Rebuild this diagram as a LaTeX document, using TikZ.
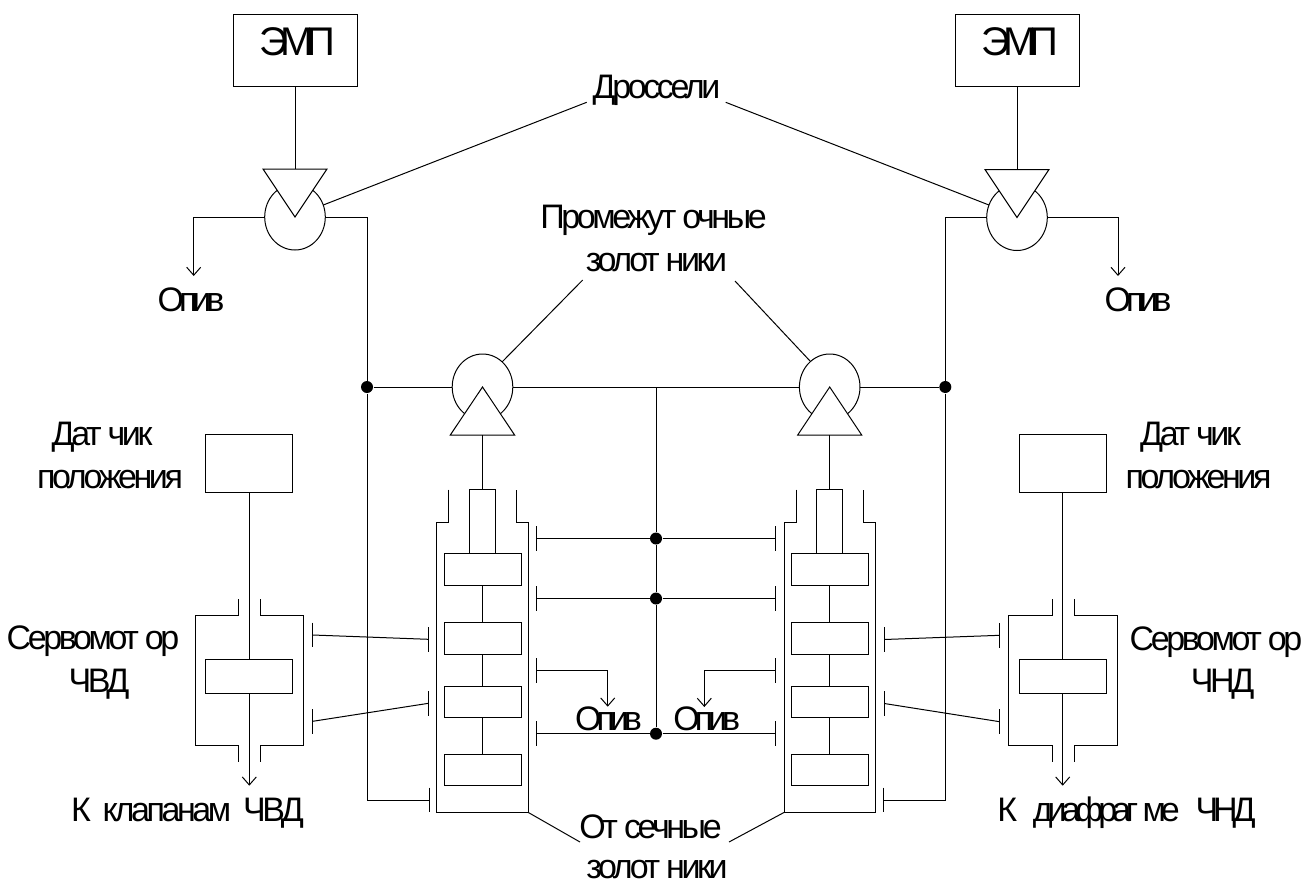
\documentclass[tikz,border=0pt]{standalone}
\usepackage{fontspec}
\setmainfont{Liberation Sans}
\newfontface\tightfont{Liberation Sans}[LetterSpace=-10]
\newfontface\tighterfont{Liberation Sans}[LetterSpace=-15]
\newfontface\empfont{Liberation Sans}[LetterSpace=-18]
\usetikzlibrary{arrows.meta,shapes.geometric}
\tikzset{boxnode/.style={draw,fill=white,inner sep=0pt,outer sep=0pt},valve/.style={draw,fill=white,ellipse,inner sep=0pt,outer sep=0pt,minimum width=60.6pt,minimum height=66pt},
  junct/.style={circle,fill=black,inner sep=0pt,minimum size=12pt},txt/.style={anchor=base,inner sep=0pt,font=\tightfont\fontsize{34}{40}\selectfont},
  txtb/.style={txt,font=\tighterfont\fontsize{34}{40}\selectfont},txtemp/.style={txt,font=\empfont\fontsize{40}{44}\selectfont}}
\begin{document}
\begin{tikzpicture}[x=1pt,y=-1pt,line width=1pt,>={Straight Barb[length=8pt,width=14pt]}]
\useasboundingbox[fill=white] (0,0) rectangle (1301,884);
\node[boxnode,minimum width=124pt,minimum height=71.5pt] (empL) at (295,50.5){}; \node[boxnode,minimum width=124pt,minimum height=71.5pt] (empR) at (1017,50.5){};
\node[txtemp] (empLtxt) at (297.5,55){ЭМП}; \node[txtemp] (empRtxt) at (1020,55){ЭМП};
\node[valve] (drL) at (295,217){}; \node[valve] (drR) at (1017,217.5){}; \node[valve] (pzL) at (482.5,387){}; \node[valve] (pzR) at (829.7,387){};
\draw[fill=white] (263,169)--(327,169)--(295,217)--cycle; \draw[fill=white] (985,169.5)--(1049,169.5)--(1017,217.5)--cycle;
\draw[fill=white] (450.3,435)--(514.6,435)--(482.5,387)--cycle; \draw[fill=white] (797.7,435)--(861.7,435)--(829.7,387)--cycle;
\coordinate (triDL) at (295,169); \coordinate (triDR) at (1017,169.5); \coordinate (triPL) at (482.5,435); \coordinate (triPR) at (829.7,435);
\draw (empL)--(triDL); \draw (empR)--(triDR);
\node[junct] (jL) at (367,387){}; \node[junct] (jR) at (945.3,387){}; \node[junct] (jA) at (656,538.5){}; \node[junct] (jB) at (656,598.5){}; \node[junct] (jC) at (656,733.7){};
% spool housings
\foreach \c/\hl/\hr/\nl/\nr in {L/436.7/528/448.7/516.3,R/784.3/875.3/796.3/863.3} \draw (\nl,489.5)--(\nl,522.5)--(\hl,522.5)--(\hl,812.3)--(\hr,812.3)--(\hr,522.5)--(\nr,522.5)--(\nr,489.5);
\foreach \c/\x in {L/482.5,R/829.7} {\node[boxnode,minimum width=26.3pt,minimum height=64pt] (rod\c) at (\x,521.5){};
  \node[boxnode,minimum width=77pt,minimum height=31.5pt] (pa\c) at (\x,569.5){}; \node[boxnode,minimum width=77pt,minimum height=31.5pt] (pb\c) at (\x,638.3){};
  \node[boxnode,minimum width=77pt,minimum height=31.5pt] (pc\c) at (\x,701.8){}; \node[boxnode,minimum width=77pt,minimum height=31.5pt] (pd\c) at (\x,769.8){};
  \draw (pa\c)--(pb\c); \draw (pb\c)--(pc\c); \draw (pc\c)--(pd\c);}
\draw (triPL)--(rodL); \draw (triPR)--(rodR);
% servomotors
\foreach \c/\x/\hl/\hr/\nl/\nr in {L/249.3/195/303.7/238.3/260.3,R/1062.7/1008.7/1117/1052/1074} {\node[boxnode,minimum width=87pt,minimum height=58pt] (dat\c) at (\x,463.7){}; \node[boxnode,minimum width=87pt,minimum height=33.5pt] (sp\c) at (\x,676.7){};
  \draw (\nl,599)--(\nl,615.2)--(\hl,615.2)--(\hl,745.7)--(\nl,745.7)--(\nl,762); \draw (\nr,599)--(\nr,615.2)--(\hr,615.2)--(\hr,745.7)--(\nr,745.7)--(\nr,762);
  \coordinate (out\c) at (\x,785.7); \draw (dat\c)--(sp\c); \draw[->] (sp\c)--(out\c);}
% T ends
\foreach \n/\x/\y in {tA/536.7/538.5,tB/536.7/598.5,tC/536.7/670.7,tD/536.7/733.7,tE/775.7/538.5,tF/775.7/598.5,tG/775.7/670.7,tH/775.7/733.7,tI/428.5/639.3,tJ/428.5/703.3,tK/429/800,tL/884.3/639.5,tM/884.3/703.5,tN/883.3/800,tO/312.7/635,tP/312.7/721.3,tQ/999.7/635.3,tR/999.7/721.7} {\coordinate (\n) at (\x,\y); \draw (\x,\y-12.3)--(\x,\y+12.3);}
\draw (tI)--(tO); \draw (tJ)--(tP); \draw (tL)--(tQ); \draw (tM)--(tR);
\coordinate (drnL) at (193.7,276); \coordinate (drnR) at (1118,276); \coordinate (drnC) at (607.7,706.7); \coordinate (drnD) at (704.3,707);
\draw[->] (drL.west)-|(drnL); \draw[->] (drR.east)-|(drnR); \draw[->] (tC)-|(drnC); \draw[->] (tG)-|(drnD);
\draw (drL.east)-|(jL); \draw (drR.west)-|(jR); \draw (jL)|-(tK); \draw (jR)|-(tN);
\draw (jL)--(pzL); \draw (pzL)--(pzR); \draw (pzR)--(jR);
\coordinate (top) at (656,387); \draw (top)--(jA); \draw (jA)--(jB); \draw (jB)--(jC);
\draw (tA)--(jA); \draw (jA)--(tE); \draw (tB)--(jB); \draw (jB)--(tF); \draw (tD)--(jC); \draw (jC)--(tH);
% labels
\node[txt] (lblDr) at (656.5,98.3){Дроссели}; \node[txt] (lblPr) at (653.5,228.3){Промежут очные}; \node[txt] (lblZa) at (656.5,271.7){золот ники};
\node[txt] (lblOc) at (650.5,838){От сечные}; \node[txt] (lblZb) at (657,878){золот ники};
\node[txtb] (lblDrnL) at (191,311){Опив}; \node[txtb] (lblDrnR) at (1138,311){Опив}; \node[txtb] (lblDrnC) at (608.5,730){Опив}; \node[txtb] (lblDrnD) at (706.7,730){Опив};
\node[txt] (lblDatA) at (102,445.7){Дат чик}; \node[txt] (lblDatB) at (110,488.3){положения}; \node[txt] (lblDatC) at (1190.5,445.7){Дат чик}; \node[txt] (lblDatD) at (1198.5,488.3){положения};
\node[txt] (lblSvA) at (93,649.3){Сервомот ор}; \node[txt] (lblSvB) at (99,692.7){ЧВД}; \node[txt] (lblSvC) at (1216,650.7){Сервомот ор}; \node[txt] (lblSvD) at (1222.5,692.7){ЧНД};
\node[txt] (lblOutL) at (187.5,821){К\, клапанам\, ЧВД}; \node[txtb] (lblOutR) at (1126.5,821){К\,\, диафраг ме\,\, ЧНД};
\coordinate (ldA) at (586.7,102.3); \coordinate (ldB) at (725.7,102.3); \coordinate (ldC) at (582.7,280); \coordinate (ldD) at (735,281); \coordinate (ldE) at (580,842); \coordinate (ldF) at (729,842);
\draw (ldA)--(drL.23); \draw (ldB)--(drR.156); \draw (ldC)--(pzL.52); \draw (ldD)--(pzR.127); \draw (ldE)--(528,812.3); \draw (ldF)--(784.3,812.3);
\end{tikzpicture}
\end{document}
